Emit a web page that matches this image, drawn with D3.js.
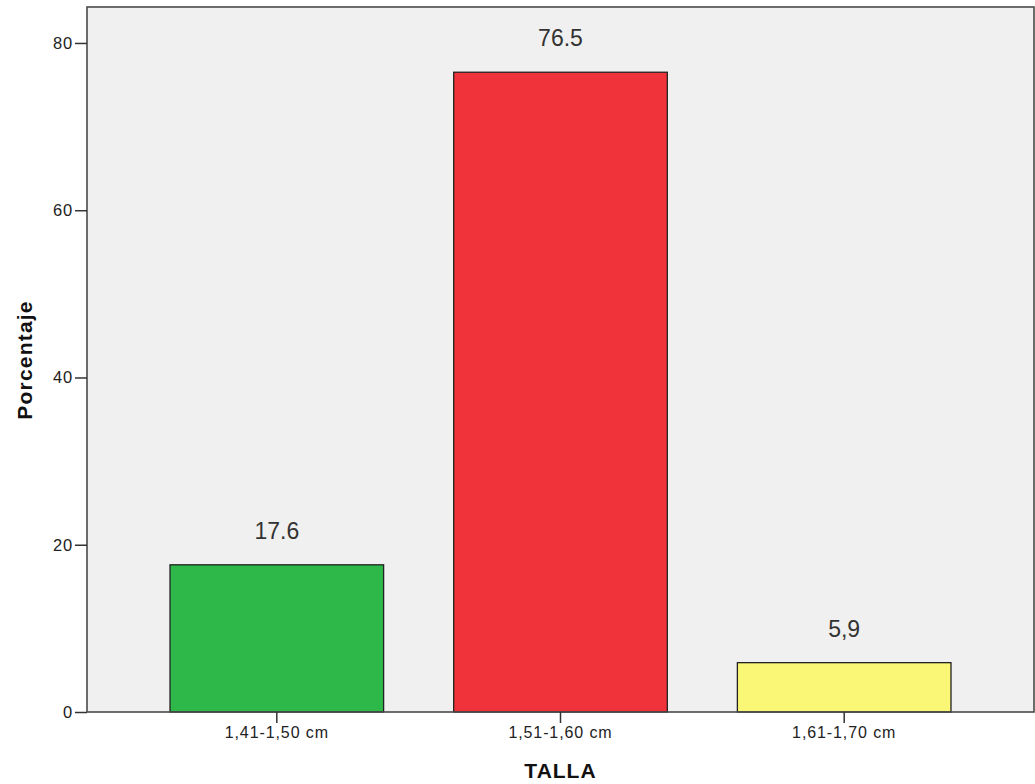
<!DOCTYPE html>
<html><head><meta charset="utf-8">
<script src="https://cdn.jsdelivr.net/npm/d3@7"></script>
<style>
body{margin:0;background:#fff;}
text{font-family:"Liberation Sans",Arial,sans-serif;}
</style></head>
<body><svg id="c" width="1035" height="784"></svg>
<script>
const categories = ["1,41-1,50 cm","1,51-1,60 cm","1,61-1,70 cm"];
const values = [17.6, 76.5, 5.9];
const valueLabels = ["17.6","76.5","5,9"];
const colors = ["#2fb84a","#f0323a","#fbf776"];
const yTicks = [0,20,40,60,80];

const svg = d3.select("#c");
const L=87, R=1034, T=7, B=712;
const x = d3.scaleBand().domain(categories).range([L,R]).paddingInner(0.247).paddingOuter(0.2926);
const y = d3.scaleLinear().domain([0,84.3]).range([B,T]);

svg.append("rect").attr("x",L).attr("y",T).attr("width",R-L).attr("height",B-T)
  .attr("fill","#f0f0f0");

svg.selectAll("rect.bar").data(values).join("rect").attr("class","bar")
  .attr("x",(d,i)=>x(categories[i])).attr("y",d=>y(d))
  .attr("width",x.bandwidth()).attr("height",d=>B-y(d))
  .attr("fill",(d,i)=>colors[i]).attr("stroke","#222").attr("stroke-width",1.3);

svg.selectAll("text.val").data(values).join("text").attr("class","val")
  .attr("x",(d,i)=>x(categories[i])+x.bandwidth()/2).attr("y",d=>y(d)-26)
  .attr("text-anchor","middle").attr("font-size",23).attr("fill","#333")
  .text((d,i)=>valueLabels[i]);

// frame
svg.append("rect").attr("x",L).attr("y",T).attr("width",R-L).attr("height",B-T)
  .attr("fill","none").attr("stroke","#4a4a4a").attr("stroke-width",1.6);

const ya = svg.append("g").attr("transform",`translate(${L},0)`)
  .call(d3.axisLeft(y).tickValues(yTicks).tickSize(12).tickPadding(2));
ya.select(".domain").remove();
ya.selectAll("line").attr("stroke","#333").attr("stroke-width",1.5);
ya.selectAll("text").attr("font-size",16.5).attr("fill","#222").attr("letter-spacing",0.8)
  .attr("font-family","'Liberation Sans',Arial,sans-serif");

const xa = svg.append("g").attr("transform",`translate(0,${B})`)
  .call(d3.axisBottom(x).tickSize(11).tickPadding(4));
xa.select(".domain").remove();
xa.selectAll("line").attr("stroke","#333").attr("stroke-width",1.5);
xa.selectAll("text").attr("font-size",16).attr("fill","#222").attr("letter-spacing",0.9)
  .attr("font-family","'Liberation Sans',Arial,sans-serif");

svg.append("text").attr("x",560.5).attr("y",778).attr("text-anchor","middle")
  .attr("font-size",21).attr("font-weight","bold").attr("letter-spacing",1).attr("fill","#111").text("TALLA");
svg.append("text").attr("transform","translate(32,360) rotate(-90)").attr("text-anchor","middle")
  .attr("font-size",21).attr("font-weight","bold").attr("letter-spacing",1.2).attr("fill","#111").text("Porcentaje");
</script></body></html>
